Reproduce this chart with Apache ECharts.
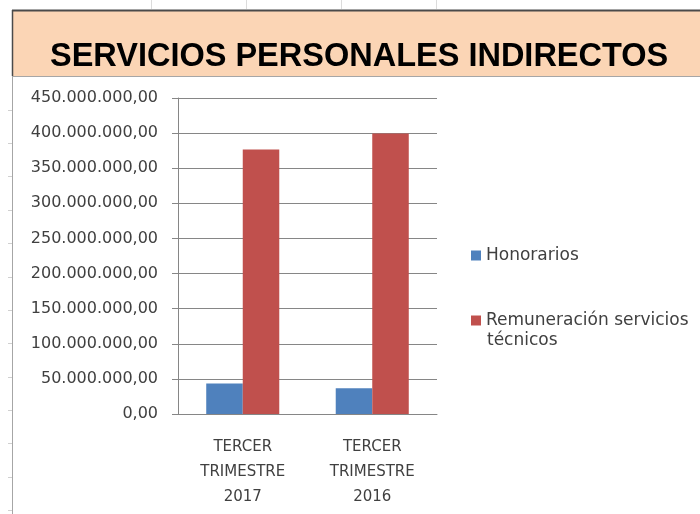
<!DOCTYPE html>
<html>
<head>
<meta charset="utf-8">
<script src="https://cdn.jsdelivr.net/npm/echarts@6/dist/echarts.min.js"></script>
<style>
  html, body { margin: 0; padding: 0; background: #fff; }
  #main { width: 700px; height: 514px; }
</style>
</head>
<body>
<div id="main"></div>
<script>
let categories = ['TERCER TRIMESTRE 2017', 'TERCER TRIMESTRE 2016'];
let honorarios = [43300000, 36700000];
let remuneracion = [376700000, 399500000];
let seriesNames = ['Honorarios', 'Remuneración servicios técnicos'];

let labelColor = '#404040';
let lineColor = '#868686';
let font = 'DejaVu Sans';

function fmt(v) {
  let s = Math.round(v).toString().replace(/\B(?=(\d{3})+(?!\d))/g, '.');
  return s + ',00';
}

// decoracion de la hoja (bordes, marcas de filas)
let deco = [
  {
    type: 'rect', shape: {x: 12, y: 10, width: 700, height: 66},
    style: {fill: '#FBD5B5', stroke: null}, z: 0
  },
  {type: 'line', shape: {x1: 12, y1: 10.5, x2: 700, y2: 10.5}, style: {stroke: '#4a4a4a', lineWidth: 2}},
  {type: 'line', shape: {x1: 12.5, y1: 10, x2: 12.5, y2: 76}, style: {stroke: '#4a4a4a', lineWidth: 1.5}},
  {type: 'line', shape: {x1: 12, y1: 76.5, x2: 700, y2: 76.5}, style: {stroke: '#a6a6a6', lineWidth: 1}},
  {type: 'line', shape: {x1: 12.5, y1: 76, x2: 12.5, y2: 514}, style: {stroke: '#a6a6a6', lineWidth: 1}}
];
[151, 246, 341, 436].forEach(function (x) {
  deco.push({type: 'line', shape: {x1: x + 0.5, y1: 0, x2: x + 0.5, y2: 9}, style: {stroke: '#dcdcdc', lineWidth: 1}});
});
for (let y = 109.5; y < 514; y += 33.4) {
  deco.push({type: 'line', shape: {x1: 8, y1: Math.round(y) + 0.5, x2: 12, y2: Math.round(y) + 0.5}, style: {stroke: '#d0d0d0', lineWidth: 1}});
}
deco.push({
  type: 'text', left: 487, top: 332,
  style: {text: 'técnicos', fill: labelColor, font: '17px "DejaVu Sans"'}
});

let option = {
  animation: false,
  backgroundColor: '#fff',
  title: {
    text: 'SERVICIOS PERSONALES INDIRECTOS',
    left: 50,
    top: 41,
    padding: 0,
    textStyle: {
      fontFamily: 'Liberation Sans',
      fontWeight: 'bold',
      fontSize: 32.5,
      color: '#000'
    }
  },
  graphic: deco,
  legend: [
    {
      data: [seriesNames[0]],
      left: 466, top: 242,
      itemWidth: 10, itemHeight: 10, itemGap: 5,
      icon: 'rect',
      textStyle: {fontFamily: font, fontSize: 17, color: labelColor}
    },
    {
      data: [seriesNames[1]],
      left: 466, top: 307,
      itemWidth: 10, itemHeight: 10,
      icon: 'rect',
      formatter: function () { return 'Remuneración servicios'; },
      textStyle: {fontFamily: font, fontSize: 17, color: labelColor}
    }
  ],
  grid: {
    left: 178,
    right: 263,
    top: 98,
    bottom: 100,
    containLabel: false
  },
  xAxis: {
    type: 'category',
    data: categories,
    axisLine: {lineStyle: {color: lineColor, width: 1}},
    axisTick: {length: 5, lineStyle: {color: lineColor}},
    axisLabel: {
      margin: 21,
      fontFamily: font,
      fontSize: 15,
      lineHeight: 25,
      color: labelColor,
      formatter: function (v) { return v.split(' ').join('\n'); }
    }
  },
  yAxis: {
    type: 'value',
    min: 0,
    max: 450000000,
    interval: 50000000,
    axisLine: {show: true, lineStyle: {color: lineColor, width: 1}},
    axisTick: {show: true, length: 6, lineStyle: {color: lineColor}},
    splitLine: {lineStyle: {color: lineColor, width: 1}},
    axisLabel: {
      margin: 20,
      fontFamily: font,
      fontSize: 16,
      color: labelColor,
      formatter: fmt
    }
  },
  series: [
    {
      name: seriesNames[0],
      type: 'bar',
      data: honorarios,
      barWidth: '28.2%',
      barGap: '0%',
      itemStyle: {color: '#4F81BD'}
    },
    {
      name: seriesNames[1],
      type: 'bar',
      data: remuneracion,
      barWidth: '28.2%',
      barGap: '0%',
      itemStyle: {color: '#C0504D'}
    }
  ]
};

let myChart = echarts.init(document.getElementById('main'), null, {renderer: 'canvas'});
myChart.setOption(option);
</script>
</body>
</html>
